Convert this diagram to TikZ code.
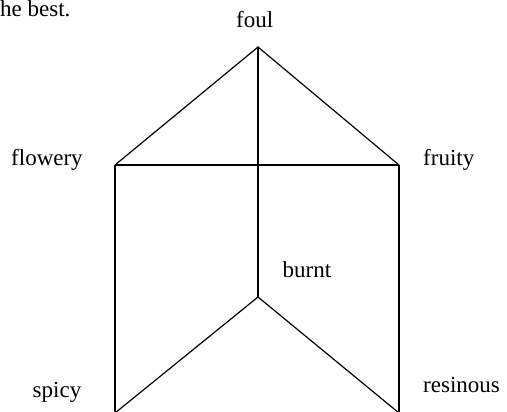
\documentclass[tikz,border=0pt]{standalone}
\usepackage{fontspec}
\setmainfont{Liberation Serif}
\tikzset{
  lbl/.style={anchor=base west, inner sep=0pt, font=\fontsize{23}{28}\selectfont},
  edge/.style={draw=black, line width=1.2pt}
}
\begin{document}
\begin{tikzpicture}[x=1pt,y=-1pt]
\useasboundingbox (0,0) rectangle (507,412);
\node[lbl] (best) at (0,16.7) {he best.};
\node[lbl] (foul) at (236,28) {foul};
\node[lbl] (flowery) at (11,166) {flowery};
\node[lbl] (fruity) at (423,166) {fruity};
\node[lbl] (burnt) at (282.5,277) {burnt};
\node[lbl] (spicy) at (32.5,397) {spicy};
\node[lbl] (resinous) at (423,392) {resinous};
\coordinate (top) at (258,47);
\coordinate (left) at (115,165);
\coordinate (right) at (399,165);
\coordinate (mid) at (258,297);
\coordinate (bl) at (115,413);
\coordinate (br) at (399,413);
\draw[edge] (left) -- (top) -- (right);
\draw[edge] (left) -- (right);
\draw[edge] (top) -- (mid);
\draw[edge] (left) -- (bl);
\draw[edge] (right) -- (br);
\draw[edge] (bl) -- (mid) -- (br);
\end{tikzpicture}
\end{document}
